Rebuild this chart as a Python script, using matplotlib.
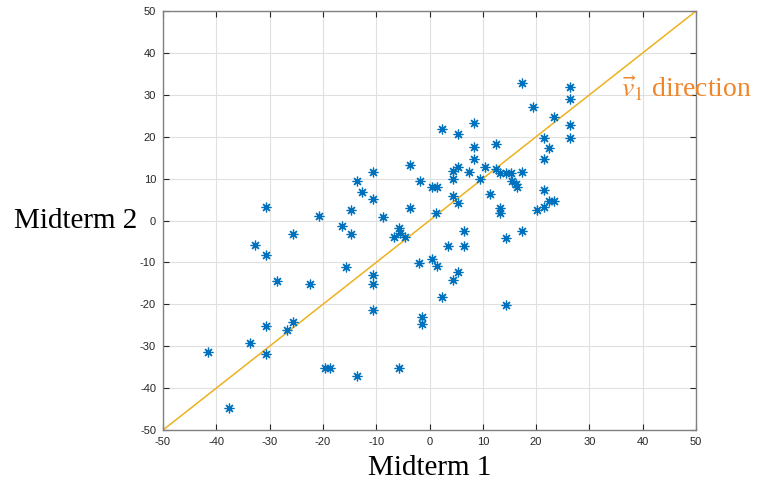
import matplotlib
matplotlib.use("Agg")
import matplotlib.pyplot as plt

# scores
midterm1 = [-41.6, -37.6, -33.6, -32.7, -30.6, -30.6, -30.6, -30.6, -28.6, -26.7,
            -25.6, -25.6, -22.5, -20.7, -19.6, -18.6, -16.5, -15.6, -14.7, -14.7,
            -13.6, -13.6, -12.7, -10.6, -10.6, -10.6, -10.6, -10.6, -8.7, -6.7,
            -5.8, -5.5, -4.6, -5.8, -3.7, -3.7, -2.0, -1.7, -1.5, -1.5,
            0.5, 0.5, 1.4, 1.3, 1.4, 2.3, 2.3, 3.5, 4.4, 4.4,
            4.4, 4.4, 5.3, 5.3, 5.4, 5.4, 6.4, 6.4, 7.4, 8.3,
            8.3, 8.3, 9.5, 10.4, 11.3, 12.4, 12.5, 13.3, 13.3, 13.3,
            14.3, 14.3, 14.3, 15.2, 15.4, 16.3, 16.4, 17.3, 17.3, 17.3,
            19.4, 20.2, 21.5, 21.5, 21.5, 21.5, 22.4, 22.4, 23.4, 23.4,
            26.4, 26.4, 26.4, 26.4]
midterm2 = [-31.3, -44.7, -29.2, -5.8, 3.2, -8.2, -25.1, -31.8, -14.5, -26.2,
            -3.2, -24.2, -15.2, 1.1, -35.3, -35.3, -1.2, -11.0, 2.4, -3.3,
            9.4, -37.1, 6.7, 11.6, 5.2, -13.1, -15.2, -21.4, 0.9, -4.0,
            -1.8, -3.0, -3.9, -35.3, 13.3, 2.9, -10.2, 9.4, -23.0, -24.6,
            7.9, -9.3, 8.1, 1.7, -10.9, 21.9, -18.3, -6.1, 11.9, 9.9,
            5.8, -14.3, 12.7, 20.7, 4.3, -12.2, -2.4, -6.1, 11.7, 23.3,
            17.6, 14.8, 9.9, 12.7, 6.4, 18.3, 12.2, 11.4, 3.0, 1.7,
            11.4, -4.1, -20.2, 11.4, 9.4, 8.7, 7.9, 11.7, -2.4, 32.9,
            27.1, 2.4, 19.8, 14.8, 7.3, 3.2, 17.2, 4.6, 4.6, 24.8,
            31.9, 29.1, 22.9, 19.8]
line_x = [-50, 50]
line_y = [-50, 50]

plt.rcParams['mathtext.fontset'] = 'stix'
plt.rcParams['axes.unicode_minus'] = False
plt.rcParams['font.family'] = ['Liberation Sans', 'DejaVu Sans']

fig = plt.figure(figsize=(7.62, 4.86), dpi=100)
ax = fig.add_axes([0.2139, 0.1152, 0.6995, 0.8621])

ax.plot(line_x, line_y, color='#EDB120', lw=1.1, zorder=2)
ax.plot(midterm1, midterm2, ls='none', marker=(8, 2, 0), color='#0072BD',
        markersize=7, markeredgewidth=0.9, zorder=3)

ax.set_xlim(-50, 50)
ax.set_ylim(-50, 50)
ax.set_xticks(range(-50, 51, 10))
ax.set_yticks(range(-50, 51, 10))
ax.grid(True, color='#e0e0e0', lw=0.8)
ax.set_axisbelow(True)
ax.tick_params(direction='in', top=True, right=True, length=4, width=0.8,
               labelsize=8, colors='#262626', pad=5)
for s in ax.spines.values():
    s.set_color('#808080')
    s.set_linewidth(1.0)

ax.set_xlabel('Midterm 1', fontsize=21, family='Liberation Serif', va='center')
ax.xaxis.set_label_coords(0.5, -0.09)
ax.set_ylabel('Midterm 2', fontsize=21, family='Liberation Serif',
              rotation=0, ha='right', va='center')
ax.yaxis.set_label_coords(-0.049, 0.5)

ax.text(36.0, 31.4, r'$\vec{v}_1$ direction', color='#F0862A', fontsize=20,
        family='Liberation Serif', va='center', ha='left', clip_on=False)

fig.savefig('out.png', dpi=100)
